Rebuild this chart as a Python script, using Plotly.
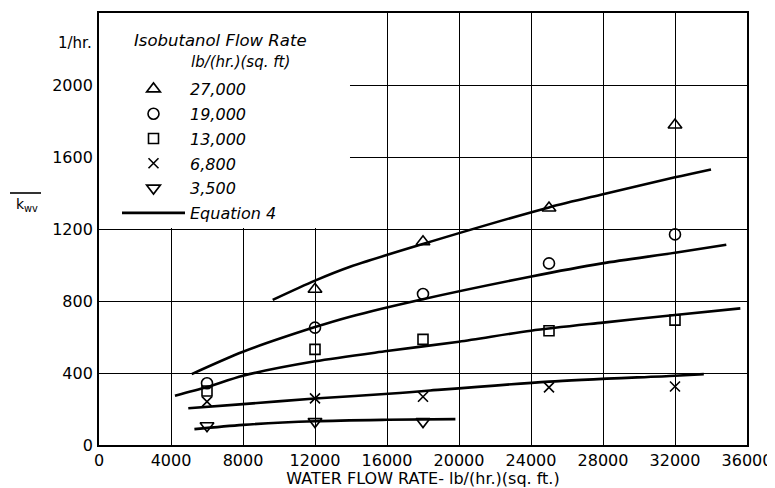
import plotly.graph_objects as go

# ---- data ----
water_x = [6000, 12000, 18000, 25000, 32000]
water_x_27000 = [12000, 18000, 25000, 32000]
water_x_3500 = [6000, 12000, 18000]

k_27000 = [865, 1129, 1317, 1778]
k_19000 = [343, 652, 839, 1009, 1170]
k_13000 = [300, 531, 587, 635, 694]
k_6800 = [241, 259, 268, 320, 325]
k_3500 = [107, 130, 130]

# Equation 4 curves
eq_27000_x = [9650, 12000, 13950, 17800, 25000, 28000, 32000, 34000]
eq_27000_y = [806, 913, 990, 1111, 1320, 1393, 1487, 1531]
eq_19000_x = [5150, 8000, 12000, 13950, 17800, 23950, 27950, 32000, 34850]
eq_19000_y = [394, 518, 655, 713, 806, 935, 1009, 1068, 1113]
eq_13000_x = [4220, 6000, 8000, 12000, 16000, 20000, 24000, 28000, 32000, 35630]
eq_13000_y = [274, 322, 385, 465, 522, 574, 635, 680, 722, 759]
eq_6800_x = [4960, 8000, 12000, 16700, 18400, 25000, 32000, 33600]
eq_6800_y = [204, 227, 258, 289, 303, 352, 385, 394]
eq_3500_x = [5300, 8000, 12000, 16000, 19800]
eq_3500_y = [88, 112, 132, 140, 144]

legend_labels = ["27,000", "19,000", "13,000", "6,800", "3,500", "Equation 4"]
x_ticks = list(range(0, 36001, 4000))
y_ticks = list(range(0, 2001, 400))

# ---- geometry (page pixels; the page body adds an 8px offset) ----
OFF = 8
PAGE_W, PAGE_H = 775, 488
X0, X1, Y0, Y1 = 99, 747, 445, 13          # plot area in page pixels
W, H = PAGE_W - OFF, PAGE_H - OFF
L, T = X0 - OFF, Y1 - OFF
R, B = PAGE_W - X1, PAGE_H - Y0
PW, PH = X1 - X0, Y0 - Y1


def px_x(p):
    return (p - X0) / PW


def px_y(p):
    return (Y0 - p) / PH


fig = go.Figure()

curves = [
    (eq_27000_x, eq_27000_y),
    (eq_19000_x, eq_19000_y),
    (eq_13000_x, eq_13000_y),
    (eq_6800_x, eq_6800_y),
    (eq_3500_x, eq_3500_y),
]
for i, (cx, cy) in enumerate(curves):
    fig.add_trace(go.Scatter(
        x=cx, y=cy, mode="lines",
        line=dict(color="black", width=2.6, shape="spline", smoothing=0.8),
        name=legend_labels[5], showlegend=(i == 0), legendgroup="eq",
        legendrank=6,
    ))

series = [
    (water_x_27000, k_27000, "triangle-up-open", 12),
    (water_x, k_19000, "circle-open", 11),
    (water_x, k_13000, "square-open", 10),
    (water_x, k_6800, "x-thin-open", 10),
    (water_x_3500, k_3500, "triangle-down-open", 12),
]
for i, (sx, sy, sym, sz) in enumerate(series):
    fig.add_trace(go.Scatter(
        x=sx, y=sy, mode="markers", name=legend_labels[i],
        marker=dict(symbol=sym, size=sz, color="black",
                    line=dict(color="black", width=1.6)),
        legendgroup="g%d" % i, legendrank=i + 1,
    ))

axis_font = dict(family="DejaVu Sans", size=16, color="black")

fig.update_layout(
    width=W, height=H,
    margin=dict(l=L, r=R, t=T, b=B, autoexpand=False),
    paper_bgcolor="white", plot_bgcolor="white",
    font=dict(family="DejaVu Sans", color="black"),
    xaxis=dict(
        range=[0, 36000], tickvals=x_ticks, ticktext=[str(v) for v in x_ticks],
        showgrid=True, gridcolor="black", gridwidth=1.3,
        showline=True, linecolor="black", linewidth=1.8, mirror=True,
        ticks="", tickfont=axis_font, zeroline=False, ticklabelstandoff=0,
        title=dict(text="WATER FLOW RATE- lb/(hr.)(sq. ft.)",
                   font=dict(family="DejaVu Sans", size=16, color="black"),
                   standoff=1),
        automargin=False,
    ),
    yaxis=dict(
        range=[0, 2400], tickvals=y_ticks, ticktext=[str(v) for v in y_ticks],
        showgrid=True, gridcolor="black", gridwidth=1.3,
        showline=True, linecolor="black", linewidth=1.8, mirror=True,
        ticks="", tickfont=axis_font, zeroline=False, ticklabelstandoff=1,
        automargin=False,
    ),
    legend=dict(
        x=px_x(117), y=px_y(72), xanchor="left", yanchor="top",
        bgcolor="rgba(0,0,0,0)", borderwidth=0,
        font=dict(family="DejaVu Sans", size=16, style="italic", color="black"),
        itemwidth=63, tracegroupgap=1, itemsizing="trace",
    ),
    showlegend=True,
)

# white block behind the legend (hides the grid in that corner)
fig.add_shape(type="rect", xref="x", yref="y", x0=0, x1=13944, y0=1206, y1=2400,
              fillcolor="white", line=dict(width=0), layer="between")

# legend title lines
fig.add_annotation(text="Isobutanol Flow Rate", xref="paper", yref="paper",
                   x=px_x(132), y=px_y(40), xanchor="left", yanchor="middle",
                   showarrow=False,
                   font=dict(family="DejaVu Sans", size=16.5, style="italic", color="black"))
fig.add_annotation(text="lb/(hr.)(sq. ft)", xref="paper", yref="paper",
                   x=px_x(189), y=px_y(62), xanchor="left", yanchor="middle",
                   showarrow=False,
                   font=dict(family="DejaVu Sans", size=15, style="italic", color="black"))

# y-axis unit and label
fig.add_annotation(text="1/hr.", xref="paper", yref="y", x=px_x(94), y=2233,
                   xanchor="right", yanchor="middle", showarrow=False,
                   font=dict(family="DejaVu Sans", size=15, color="black"))
fig.add_shape(type="line", xref="paper", yref="paper",
              x0=px_x(10), x1=px_x(41), y0=px_y(193), y1=px_y(193),
              line=dict(color="black", width=1.6))
fig.add_annotation(text="k<sub>wv</sub>", xref="paper", yref="paper",
                   x=px_x(27), y=px_y(205), xanchor="center", yanchor="middle",
                   showarrow=False,
                   font=dict(family="DejaVu Sans", size=14, color="black"))

fig.write_html("out.html")
